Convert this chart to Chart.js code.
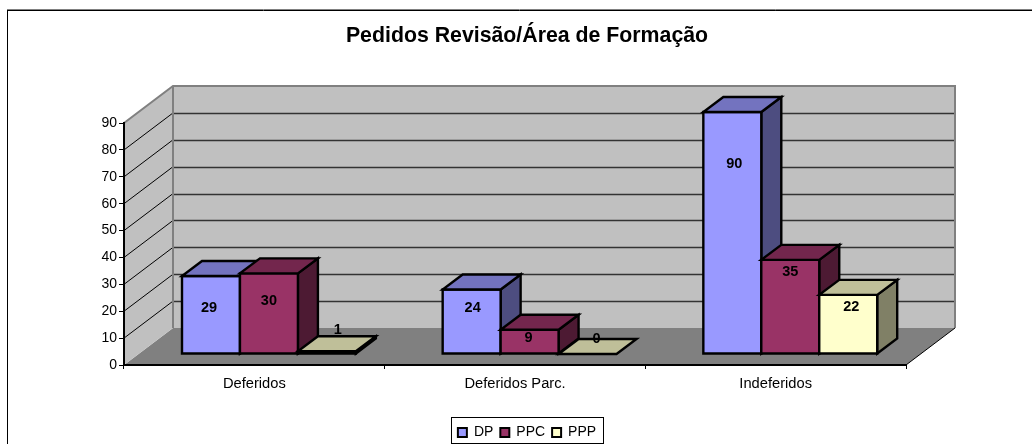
<!DOCTYPE html>
<html><head><meta charset="utf-8">
<style>html,body{margin:0;padding:0;background:#fff}canvas{display:block}</style>
<script src="https://cdn.jsdelivr.net/npm/chart.js@4"></script>
</head><body><canvas id="c" width="1032" height="444"></canvas>
<script>
const categories = ['Deferidos', 'Deferidos Parc.', 'Indeferidos'];
const seriesDP = [29, 24, 90];
const seriesPPC = [30, 9, 35];
const seriesPPP = [1, 0, 22];
const yTicks = [0,10,20,30,40,50,60,70,80,90];
const titleText = 'Pedidos Revisão/Área de Formação';

// value-label nudges relative to the bar's front-top centre (reference's label placement)
const nudge = [
  [[-2,32],[0,28],[11,-21]],
  [[1,19],[-1,8],[9,-15]],
  [[2,52],[0,12],[3,12]]
];
const WALL = {dx:49, dy:-37};      // depth of the floor
const BAR_OFFSET = {dx:14.6, dy:-11}; // bars sit inside the floor
const BAR_DEPTH = {dx:20, dy:-15};

function shade(hex,f){
  const n=parseInt(hex.slice(1),16);
  return `rgb(${Math.round((n>>16&255)*f)},${Math.round((n>>8&255)*f)},${Math.round((n&255)*f)})`;
}
function poly(ctx,pts,fill,stroke,lw){
  ctx.beginPath();
  pts.forEach((p,i)=>i?ctx.lineTo(p[0],p[1]):ctx.moveTo(p[0],p[1]));
  ctx.closePath();
  if(fill){ctx.fillStyle=fill;ctx.fill();}
  if(stroke){ctx.strokeStyle=stroke;ctx.lineWidth=lw;ctx.lineJoin='miter';ctx.stroke();}
}
const threeD = {
  id:'threeD',
  beforeDatasetsDraw(chart){
    const ctx=chart.ctx,{left:l,right:r,top:t,bottom:b}=chart.chartArea;
    const y=chart.scales.y, {dx,dy}=WALL;
    ctx.save();
    // floor, side wall, back wall
    poly(ctx,[[l,b],[r,b],[r+dx,b+dy],[l+dx,b+dy]],'#808080');
    poly(ctx,[[l,b],[l+dx,b+dy],[l+dx,t+dy],[l,t]],'#C0C0C0');
    poly(ctx,[[l+dx,b+dy],[r+dx,b+dy],[r+dx,t+dy],[l+dx,t+dy]],'#C0C0C0');
    // gridlines
    yTicks.forEach(v=>{
      if(v===0||v===yTicks[yTicks.length-1])return;
      const p=y.getPixelForValue(v);
      ctx.strokeStyle='#000';ctx.lineWidth=1;
      ctx.beginPath();ctx.moveTo(l,p);ctx.lineTo(l+dx,p+dy);ctx.stroke();
      ctx.strokeStyle='#333';ctx.lineWidth=1.5;
      ctx.beginPath();ctx.moveTo(l+dx,Math.round(p+dy)+.5);ctx.lineTo(r+dx,Math.round(p+dy)+.5);ctx.stroke();
    });
    // wall edges
    ctx.strokeStyle='#808080';ctx.lineWidth=2;
    ctx.beginPath();
    ctx.moveTo(l,t);ctx.lineTo(l+dx,t+dy);ctx.lineTo(r+dx,t+dy);ctx.lineTo(r+dx,b+dy);
    ctx.moveTo(l+dx,t+dy);ctx.lineTo(l+dx,b+dy);
    ctx.stroke();
    ctx.beginPath();ctx.moveTo(r,b);ctx.lineTo(r+dx,b+dy);ctx.strokeStyle='#000';ctx.lineWidth=1;ctx.stroke();

    // bars
    const ox=BAR_OFFSET.dx, oy=BAR_OFFSET.dy, zx=BAR_DEPTH.dx, zy=BAR_DEPTH.dy;
    categories.forEach((_,ci)=>{
      chart.data.datasets.forEach((ds,si)=>{
        const el=chart.getDatasetMeta(si).data[ci];
        const x0=el.x-el.width/2+ox,x1=el.x+el.width/2+ox,top=el.y+oy,base=el.base+oy;
        const c=ds.backgroundColor;
        if(base-top>0.5){
          poly(ctx,[[x1,top],[x1+zx,top+zy],[x1+zx,base+zy],[x1,base]],shade(c,.5),'#000',2.4);
          poly(ctx,[[x0,top],[x1,top],[x1,base],[x0,base]],c,'#000',2.4);
        }
        poly(ctx,[[x0,top],[x1,top],[x1+zx,top+zy],[x0+zx,top+zy]],shade(c,.75),'#000',2.4);
      });
    });
    // value labels
    ctx.fillStyle='#000';ctx.font='bold 14.5px "Liberation Sans"';ctx.textAlign='center';ctx.textBaseline='middle';
    categories.forEach((_,ci)=>{
      chart.data.datasets.forEach((ds,si)=>{
        const el=chart.getDatasetMeta(si).data[ci],n=nudge[ci][si];
        ctx.fillText(ds.data[ci],el.x+ox+n[0],el.y+oy+n[1]);
      });
    });
    ctx.restore();
    return false;
  },
  afterDraw(chart){
    const ctx=chart.ctx;
    ctx.save();
    // chart frame
    ctx.strokeStyle='#808080';ctx.lineWidth=1;
    ctx.beginPath();ctx.moveTo(7,9.5);ctx.lineTo(1032,9.5);ctx.stroke();
    ctx.strokeStyle='#000';
    ctx.beginPath();ctx.moveTo(7.5,10.5);ctx.lineTo(1032,10.5);ctx.moveTo(7.5,10);ctx.lineTo(7.5,444);ctx.stroke();
    // legend frame
    ctx.strokeStyle='#000';ctx.lineWidth=1;
    ctx.strokeRect(451.5,417.5,152,26);
    ctx.restore();
  }
};
new Chart(document.getElementById('c'),{
  type:'bar',
  data:{labels:categories,datasets:[
    {label:'DP',data:seriesDP,backgroundColor:'#9999FF',borderColor:'#000',borderWidth:2},
    {label:'PPC',data:seriesPPC,backgroundColor:'#993366',borderColor:'#000',borderWidth:2},
    {label:'PPP',data:seriesPPP,backgroundColor:'#FFFFCC',borderColor:'#000',borderWidth:2}
  ]},
  plugins:[threeD],
  options:{
    responsive:false,animation:false,
    categoryPercentage:0.667,barPercentage:1,
    layout:{padding:{left:22,right:0,top:0,bottom:-5.5}},
    plugins:{
      title:{display:true,text:titleText,color:'#000',font:{family:'"Liberation Sans"',size:21.3,weight:'bold'},padding:{top:23,bottom:74.5}},
      legend:{position:'bottom',labels:{color:'#000',boxWidth:9,boxHeight:9,padding:7,font:{family:'"Liberation Sans"',size:14}}},
      tooltip:{enabled:false}
    },
    scales:{
      x:{
        grid:{display:true,drawOnChartArea:false,drawTicks:true,tickLength:4,color:'#000',z:1},
        border:{display:true,color:'#000',width:2,z:1},
        ticks:{color:'#000',font:{family:'"Liberation Sans"',size:14.7},padding:6,maxRotation:0},
        afterFit(s){s.height=444+5.5-365-s.chart.legend.height;}
      },
      y:{
        min:0,max:90,
        grid:{display:true,drawOnChartArea:false,drawTicks:true,tickLength:5,color:'#000',z:1},
        border:{display:true,color:'#000',width:2,z:1},
        ticks:{color:'#000',stepSize:10,font:{family:'"Liberation Sans"',size:14},padding:2},
        afterFit(s){s.width=102;}
      },
      // empty spacer: keeps the plot clear of the back wall's overhang on the right
      spacer:{
        position:'right',min:0,max:1,
        grid:{display:false},border:{display:false},ticks:{display:false},
        afterFit(s){s.width=126;}
      }
    }
  }
});
</script></body></html>
